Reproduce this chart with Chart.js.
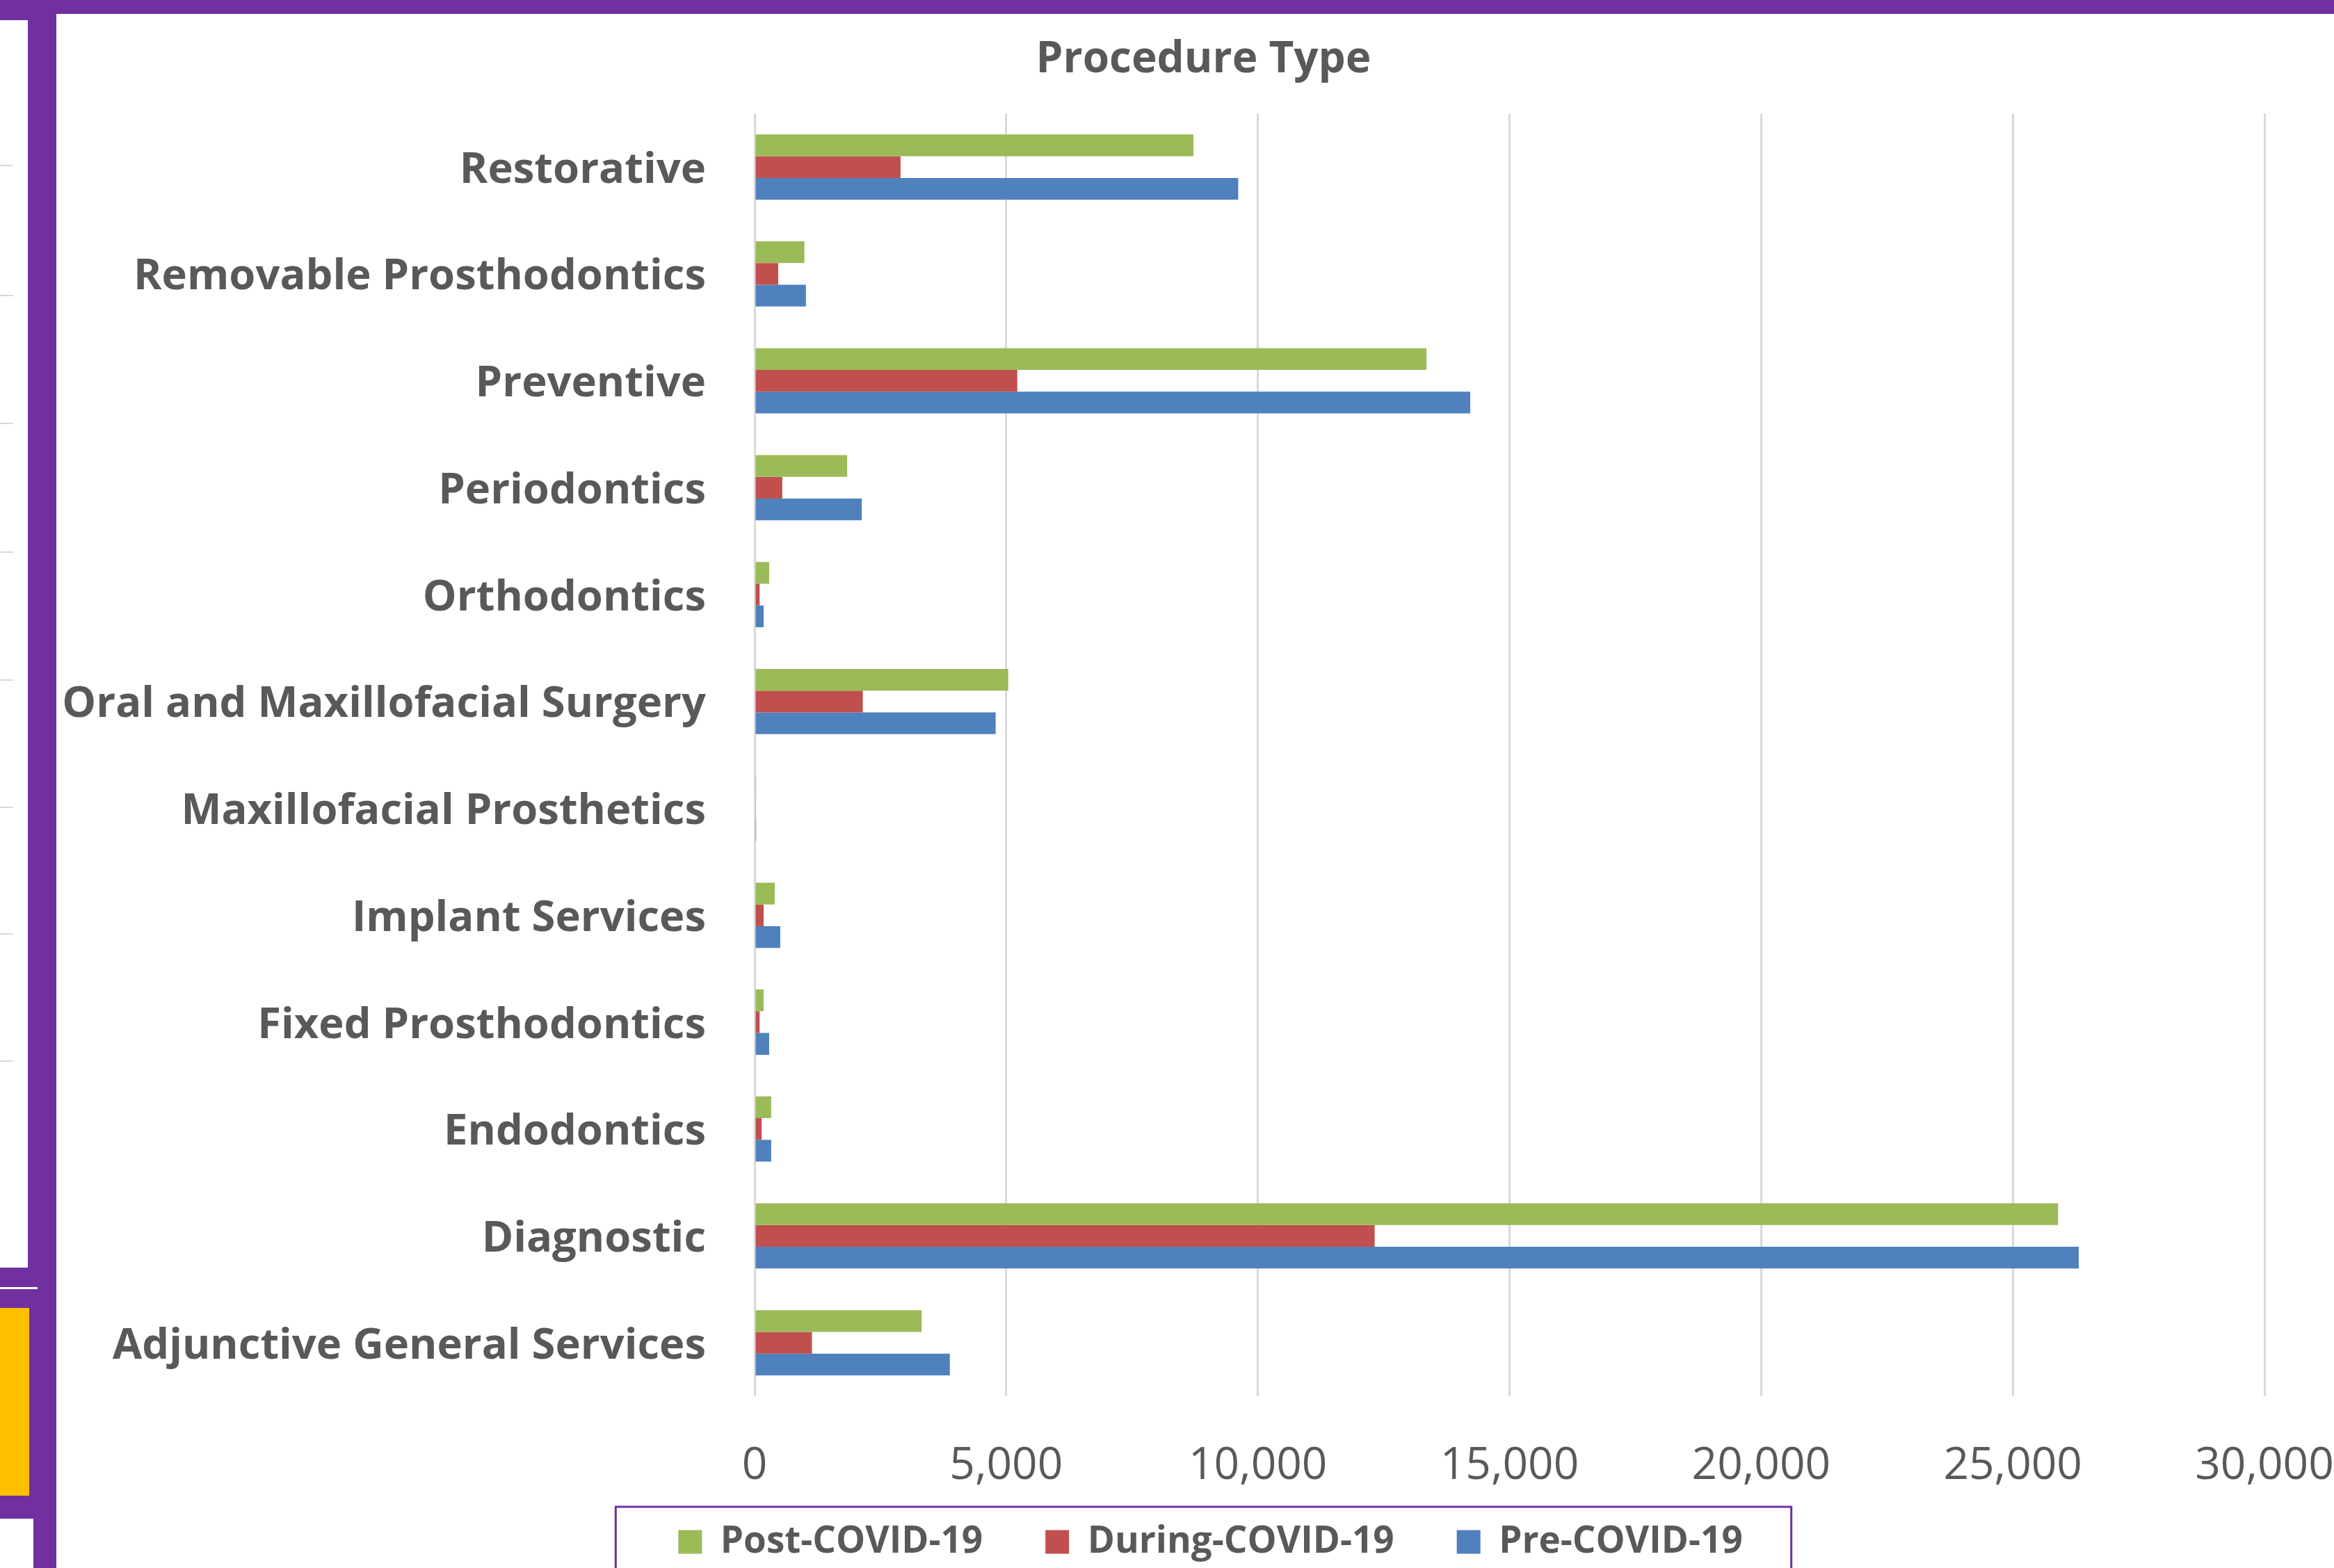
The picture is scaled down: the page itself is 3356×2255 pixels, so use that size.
<!DOCTYPE html>
<html>
<head>
<meta charset="utf-8">
<title>Procedure Type</title>
<script src="https://cdn.jsdelivr.net/npm/chart.js@4.4.1/dist/chart.umd.min.js"></script>
<style>
  html, body { margin: 0; padding: 0; background: #fff; overflow: hidden; }
  body { width: 3356px; height: 2255px; position: relative; }
  .blk { position: absolute; }
  #wrap { position: absolute; left: 81px; top: 20px; width: 3275px; height: 2235px; }
</style>
</head>
<body>
<!-- slide frame -->
<div class="blk" style="left:0;top:0;width:3356px;height:20px;background:#7030A0"></div>
<div class="blk" style="left:0;top:0;width:81px;height:2255px;background:#7030A0"></div>
<div class="blk" style="left:0;top:29px;width:40px;height:1794px;background:#fff"></div>
<div class="blk" style="left:0;top:237px;width:19px;height:2px;background:#d9d9d9"></div>
<div class="blk" style="left:0;top:424px;width:19px;height:2px;background:#d9d9d9"></div>
<div class="blk" style="left:0;top:608px;width:19px;height:2px;background:#d9d9d9"></div>
<div class="blk" style="left:0;top:793px;width:19px;height:2px;background:#d9d9d9"></div>
<div class="blk" style="left:0;top:977px;width:19px;height:2px;background:#d9d9d9"></div>
<div class="blk" style="left:0;top:1160px;width:19px;height:2px;background:#d9d9d9"></div>
<div class="blk" style="left:0;top:1342px;width:19px;height:2px;background:#d9d9d9"></div>
<div class="blk" style="left:0;top:1525px;width:19px;height:2px;background:#d9d9d9"></div>
<div class="blk" style="left:0;top:1851px;width:54px;height:3px;background:#fff"></div>
<div class="blk" style="left:0;top:1881px;width:42px;height:270px;background:#FFC000"></div>
<div class="blk" style="left:0;top:2184px;width:48px;height:71px;background:#fff"></div>

<div id="wrap"><canvas id="procChart" width="3275" height="2235"></canvas></div>

<script>
// ===== Data =====
const categories = [
  'Restorative',
  'Removable Prosthodontics',
  'Preventive',
  'Periodontics',
  'Orthodontics',
  'Oral and Maxillofacial Surgery',
  'Maxillofacial Prosthetics',
  'Implant Services',
  'Fixed Prosthodontics',
  'Endodontics',
  'Diagnostic',
  'Adjunctive General Services'
];
const seriesNames = ['Post-COVID-19', 'During-COVID-19', 'Pre-COVID-19'];
const postCovid   = [8720, 990, 13350, 1840, 290, 5040, 30, 400, 180, 330, 25900, 3320];
const duringCovid = [2900, 470, 5220, 550, 100, 2150, 25, 180, 100, 140, 12320, 1140];
const preCovid    = [9610, 1020, 14220, 2130, 180, 4790, 30, 510, 290, 330, 26310, 3880];
const xTicks = [0, 5000, 10000, 15000, 20000, 25000, 30000];

// ===== Colors =====
const colors = {
  post:   '#9BBB59',
  during: '#C0504D',
  pre:    '#4F81BD',
  text:   '#595959',
  grid:   '#D9D9D9',
  frame:  '#7030A0'
};

// nudges after layout + purple outline round the legend (runs off the bottom)
const legendFrame = {
  id: 'legendFrame',
  afterLayout(chart) {
    chart.legend.left += 22;
    chart.legend.right += 22;
    chart.titleBlock.left += 12;
    chart.titleBlock.right += 12;
    // let the x tick labels spill below the axis box
    chart.scales.x.bottom += 90;
  },
  afterDraw(chart) {
    const lg = chart.legend;
    const pad = lg.options.labels.padding;
    const start = ((lg.left + pad) + (lg.right - lg.lineWidths[0])) / 2;
    const itemsW = lg.lineWidths[0] - seriesNames.length * pad;
    const end = start + itemsW + (seriesNames.length - 1) * pad;
    const top = lg.top + pad + 27 - 51;
    const ctx = chart.ctx;
    ctx.save();
    ctx.strokeStyle = colors.frame;
    ctx.lineWidth = 3;
    ctx.strokeRect(start - 90, top, (end + 70) - (start - 90), chart.height - top + 20);
    ctx.restore();
  }
};

new Chart(document.getElementById('procChart').getContext('2d'), {
  type: 'bar',
  data: {
    labels: categories,
    datasets: [
      { label: seriesNames[0], data: postCovid,   backgroundColor: colors.post },
      { label: seriesNames[1], data: duringCovid, backgroundColor: colors.during },
      { label: seriesNames[2], data: preCovid,    backgroundColor: colors.pre }
    ]
  },
  options: {
    indexAxis: 'y',
    responsive: false,
    animation: false,
    devicePixelRatio: 1,
    categoryPercentage: 0.61,
    barPercentage: 1.0,
    layout: { padding: { left: 0, right: 0, top: 0, bottom: 1 } },
    plugins: {
      title: {
        display: true,
        text: 'Procedure Type',
        color: colors.text,
        font: { family: "'Open Sans', sans-serif", size: 62, weight: 'bold' },
        padding: { top: 29, bottom: 40 }
      },
      legend: {
        position: 'bottom',
        labels: {
          color: colors.text,
          boxWidth: 34,
          boxHeight: 34,
          padding: 90,
          font: { family: "'Open Sans', sans-serif", size: 53, weight: 'bold' }
        }
      },
      tooltip: { enabled: false }
    },
    scales: {
      x: {
        min: 0,
        max: 30000,
        afterBuildTicks: s => { s.ticks = xTicks.map(v => ({ value: v })); },
        afterFit: s => { s.height = 93; s.paddingRight = 100; },
        grid: { color: colors.grid, lineWidth: 3, drawTicks: false },
        border: { display: false },
        ticks: {
          padding: 62,
          maxRotation: 0,
          color: colors.text,
          font: { family: "'Open Sans', sans-serif", size: 64 },
          callback: v => Number(v).toLocaleString('en-US')
        }
      },
      y: {
        afterFit: s => { s.width = 1004; },
        grid: { display: false, drawTicks: false },
        border: { display: false },
        ticks: {
          padding: 70,
          labelOffset: 5,
          color: colors.text,
          font: { family: "'Open Sans', sans-serif", size: 61.5, weight: 'bold' }
        }
      }
    }
  },
  plugins: [legendFrame]
});
</script>
</body>
</html>
